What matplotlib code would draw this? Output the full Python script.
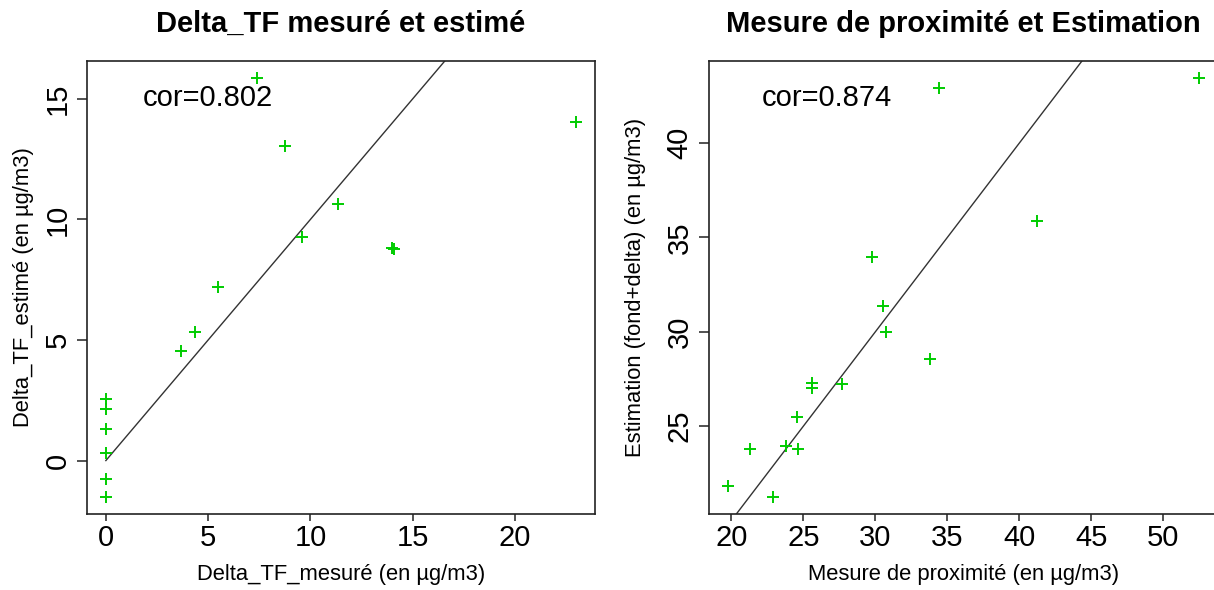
import numpy as np
import matplotlib
matplotlib.use("Agg")
import matplotlib.pyplot as plt

plt.rcParams['font.family'] = ['Liberation Sans', 'DejaVu Sans']

# Delta_TF : mesuré vs estimé
delta_mesure = np.array([0, 0, 0, 0, 0, 0, 3.65, 4.35, 5.5, 7.4, 8.75, 9.6,
                         11.35, 14.0, 14.1, 23.0])
delta_estime = np.array([2.56, 2.12, 1.3, 0.3, -0.78, -1.52, 4.55, 5.35, 7.18,
                         15.88, 13.05, 9.28, 10.66, 8.82, 8.77, 14.05])
cor_delta = "cor=0.802"

# Mesure de proximité vs estimation (fond+delta)
prox_mesure = np.array([19.75, 21.3, 22.9, 23.8, 24.55, 24.65, 25.6, 25.6, 27.65,
                        29.75, 30.55, 30.75, 33.8, 34.4, 41.25, 52.5])
prox_estime = np.array([21.8, 23.8, 21.23, 23.95, 25.48, 23.8, 27.27, 27.0, 27.22,
                        33.98, 31.35, 29.97, 28.58, 42.92, 35.85, 43.46])
cor_prox = "cor=0.874"

green = '#00cc00'

fig = plt.figure(figsize=(12.14, 5.9), dpi=100)
ax1 = fig.add_axes([0.0717, 0.1288, 0.4185, 0.768])
ax2 = fig.add_axes([0.584, 0.1288, 0.4195, 0.768])


def panel(ax, x, y, title, xlab, ylab, xticks, yticks, cor, cor_pos, ylab_x):
    ax.plot(x, y, linestyle='none', marker='+', color=green,
            markersize=9, markeredgewidth=1.4, zorder=3)
    # droite y = x
    ax.plot([x.min(), x.max()], [x.min(), x.max()], color='#333333', lw=1.0, zorder=2)
    xr = x.max() - x.min()
    yr = y.max() - y.min()
    ax.set_xlim(x.min() - 0.04 * xr, x.max() + 0.04 * xr)
    ax.set_ylim(y.min() - 0.04 * yr, y.max() + 0.04 * yr)
    ax.set_xticks(xticks)
    ax.set_yticks(yticks)
    ax.tick_params(axis='both', direction='out', width=1.1,
                   labelsize=21, color='#222222')
    ax.tick_params(axis='x', length=5, pad=2)
    ax.tick_params(axis='y', length=7, pad=4, labelrotation=90)
    for lab in ax.get_yticklabels():
        lab.set_va('center')
    for sp in ax.spines.values():
        sp.set_linewidth(1.2)
        sp.set_color('#222222')
    ax.set_title(title, fontsize=21, fontweight='bold', pad=21)
    ax.set_xlabel(xlab, fontsize=15.8, labelpad=9)
    ax.set_ylabel(ylab, fontsize=15.8, va='center')
    ax.yaxis.set_label_coords(ylab_x, 0.5)
    ax.text(cor_pos[0], cor_pos[1], cor, fontsize=21, ha='center', va='center')


panel(ax1, delta_mesure, delta_estime, "Delta_TF mesuré et estimé",
      "Delta_TF_mesuré (en µg/m3)", "Delta_TF_estimé (en µg/m3)",
      [0, 5, 10, 15, 20], [0, 5, 10, 15], cor_delta, (5.0, 15.05), -0.126)
panel(ax2, prox_mesure, prox_estime, "Mesure de proximité et Estimation",
      "Mesure de proximité (en µg/m3)", "Estimation (fond+delta) (en µg/m3)",
      [20, 25, 30, 35, 40, 45, 50], [25, 30, 35, 40], cor_prox, (26.6, 42.4), -0.145)

fig.savefig("out.png", dpi=100)
